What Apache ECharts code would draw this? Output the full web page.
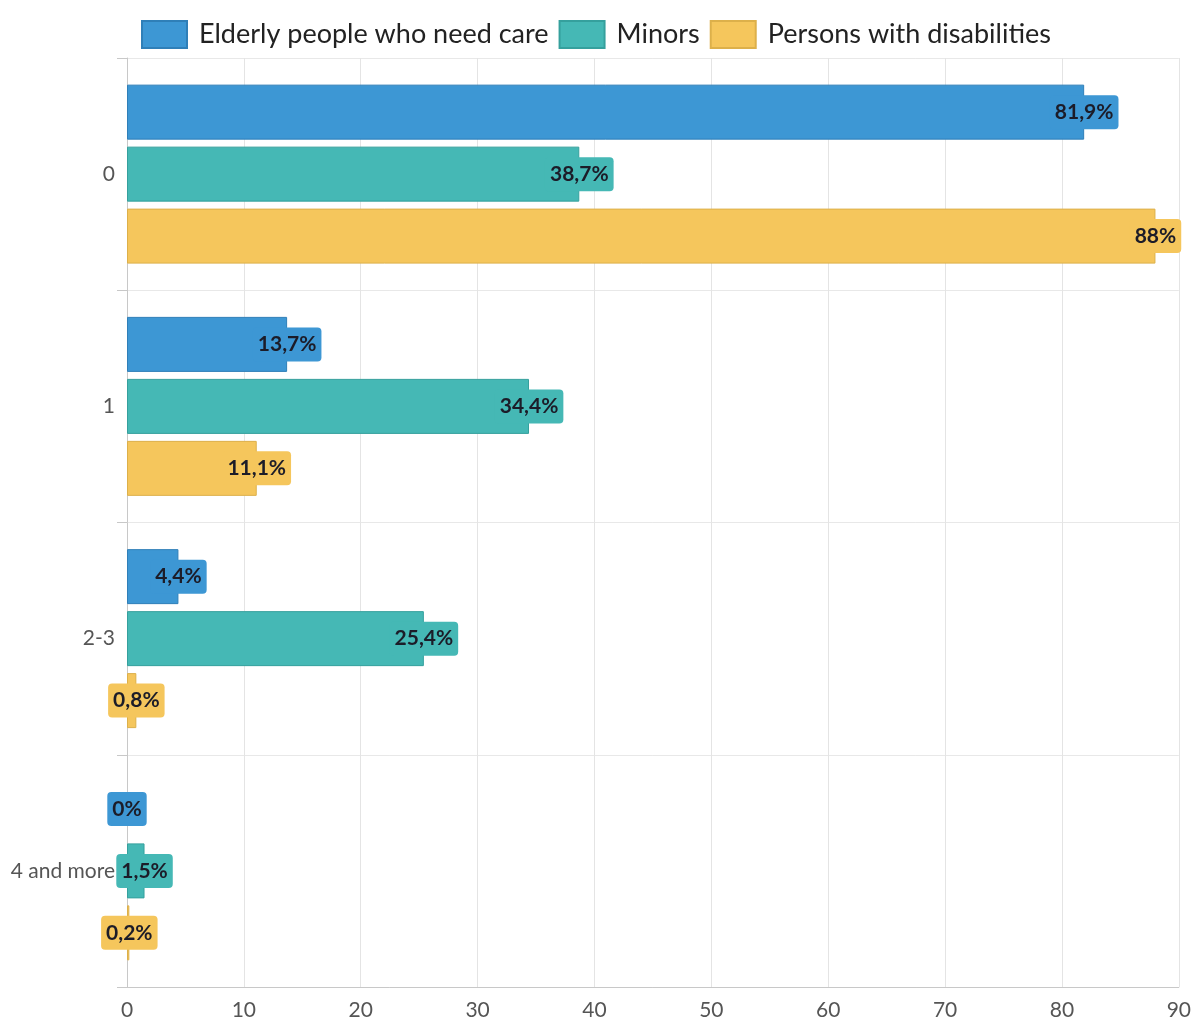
<!DOCTYPE html>
<html>
<head>
<meta charset="utf-8">
<script src="https://cdn.jsdelivr.net/npm/echarts@6/dist/echarts.min.js"></script>
<style>
  html, body { margin: 0; padding: 0; background: #fff; }
  #chart { width: 1194px; height: 1021px; }
</style>
</head>
<body>
<div id="chart"></div>
<script>
// Number of dependants in the household, share of respondents (%)
const categories = ['0', '1', '2-3', '4 and more'];
const seriesNames = ['Elderly people who need care', 'Minors', 'Persons with disabilities'];
const elderly = [81.9, 13.7, 4.4, 0];
const minors = [38.7, 34.4, 25.4, 1.5];
const disabilities = [88, 11.1, 0.8, 0.2];
const xTicks = [0, 10, 20, 30, 40, 50, 60, 70, 80, 90];

const fills = ['#3d97d4', '#45b8b5', '#f5c65c'];
const edges = ['#2f7fb8', '#35a09d', '#ddb04a'];

function fmt(v) {
  return String(v).replace('.', ',') + '%';
}

// zero-length bars get no outline so only their label shows
function toItems(data) {
  return data.map(v => v === 0 ? { value: v, itemStyle: { borderWidth: 0 } } : v);
}

function makeSeries(name, data, i) {
  return {
    name: name,
    type: 'bar',
    data: toItems(data),
    barWidth: 55,
    barGap: '12.7%',
    itemStyle: { color: fills[i], borderColor: edges[i], borderWidth: 1 },
    label: {
      show: true,
      position: ['100%', '50%'],
      align: 'center',
      verticalAlign: 'middle',
      formatter: p => fmt(p.value),
      fontFamily: 'Lato',
      fontSize: 21,
      fontWeight: 'bold',
      color: '#1c1c28',
      backgroundColor: fills[i],
      borderRadius: 4,
      padding: [7, 5, 6, 5]
    }
  };
}

const chart = echarts.init(document.getElementById('chart'), null, { renderer: 'canvas' });
chart.setOption({
  animation: false,
  textStyle: { fontFamily: 'Lato' },
  legend: {
    top: 15,
    left: 136,
    icon: 'rect',
    itemWidth: 45,
    itemHeight: 27,
    itemGap: 10,
    textStyle: { fontFamily: 'Lato', fontSize: 27, color: '#222', padding: [0, 0, 0, 7] },
    data: seriesNames
  },
  grid: { left: 127, right: 12, top: 58, bottom: 28, containLabel: false },
  xAxis: {
    type: 'value',
    min: xTicks[0],
    max: xTicks[xTicks.length - 1],
    interval: 10,
    axisLine: { show: true, lineStyle: { color: '#c8c8c8' } },
    axisTick: { show: false },
    axisLabel: { fontFamily: 'Lato', fontSize: 21, color: '#555', margin: 13 },
    splitLine: { show: true, lineStyle: { color: '#e4e4e4' } }
  },
  yAxis: {
    type: 'category',
    inverse: true,
    data: categories,
    axisLine: { show: true, lineStyle: { color: '#c8c8c8' } },
    axisTick: { show: true, length: 10, lineStyle: { color: '#c8c8c8' } },
    axisLabel: { fontFamily: 'Lato', fontSize: 21, color: '#555', margin: 12 },
    splitLine: { show: true, lineStyle: { color: '#e8e8e8' } }
  },
  series: [
    makeSeries(seriesNames[0], elderly, 0),
    makeSeries(seriesNames[1], minors, 1),
    makeSeries(seriesNames[2], disabilities, 2)
  ]
});
</script>
</body>
</html>
